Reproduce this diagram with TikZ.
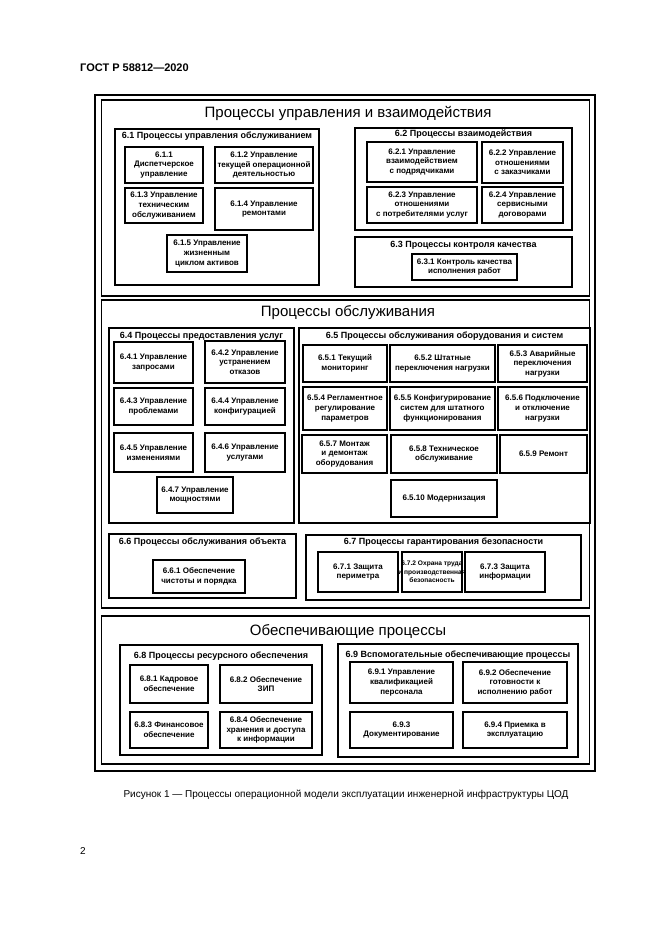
\documentclass[tikz,border=0pt]{standalone}
\usepackage{fontspec}
\setmainfont{Liberation Sans}
\begin{document}
\begin{tikzpicture}[x=1pt,y=-1pt,
  ibox/.style={draw, line width=2.3pt, inner sep=1pt, align=center, font=\fontsize{8}{9.6}\selectfont\bfseries},
  gbox/.style={draw, line width=1.8pt},
  sbox/.style={draw, line width=1.8pt},
  obox/.style={draw, line width=1.5pt},
  hdr/.style={font=\fontsize{9}{10}\selectfont\bfseries, inner sep=0pt},
  stitle/.style={font=\fontsize{15}{17}\selectfont, inner sep=0pt},
  plain/.style={inner sep=0pt}]
\useasboundingbox (0,0) rectangle (661,935);
\newcommand\bx[6]{%
 \pgfmathsetmacro\bxw{#4-#2}\pgfmathsetmacro\bxh{#5-#3}%
 \pgfmathsetmacro\bxx{(#2+#4)/2}\pgfmathsetmacro\bxy{(#3+#5)/2}%
 \node[ibox, minimum width=\bxw pt, minimum height=\bxh pt] (#1) at (\bxx,\bxy) {#6};}
\newcommand\gb[7]{%
 \pgfmathsetmacro\bxw{#4-#2}\pgfmathsetmacro\bxh{#5-#3}%
 \pgfmathsetmacro\bxx{(#2+#4)/2}\pgfmathsetmacro\bxy{(#3+#5)/2}%
 \node[gbox, minimum width=\bxw pt, minimum height=\bxh pt] (#1) at (\bxx,\bxy) {};%
 \node[hdr] (#1t) at (\bxx,#3+#6) {#7};}

% header
\node[plain, anchor=west, font=\fontsize{11}{12}\selectfont\bfseries] (gost) at (80,68) {ГОСТ Р 58812—2020};
% outer frame
\node[obox, minimum width=500pt, minimum height=676pt] (outer) at (345,433) {};

% sections
\node[sbox, minimum width=488pt, minimum height=196pt] (s1) at (345.5,198) {};
\node[stitle] (s1t) at (348,113) {Процессы управления и взаимодействия};
\node[sbox, minimum width=488pt, minimum height=308pt] (s2) at (345.5,454) {};
\node[stitle] (s2t) at (348,313) {Процессы обслуживания};
\node[sbox, minimum width=488pt, minimum height=148pt] (s3) at (345.5,690) {};
\node[stitle] (s3t) at (348,632) {Обеспечивающие процессы};

% 6.1
\gb{g61}{115}{129}{319}{285}{7}{6.1 Процессы управления обслуживанием}
\bx{b611}{125}{147}{203}{183}{6.1.1\\Диспетчерское\\управление}
\bx{b612}{215}{147}{313}{183}{6.1.2 Управление\\текущей операционной\\деятельностью}
\bx{b613}{125}{188}{203}{223}{6.1.3 Управление\\техническим\\обслуживанием}
\bx{b614}{215}{188}{313}{230}{6.1.4 Управление\\ремонтами}
\bx{b615}{167}{235}{247}{272}{6.1.5 Управление\\жизненным\\циклом активов}
% 6.2
\gb{g62}{355}{128}{572}{230}{6}{6.2 Процессы взаимодействия}
\bx{b621}{367}{142}{477}{182}{6.2.1 Управление\\взаимодействием\\с подрядчиками}
\bx{b622}{482}{142}{563}{183}{6.2.2 Управление\\отношениями\\с заказчиками}
\bx{b623}{367}{187}{477}{223}{6.2.3 Управление\\отношениями\\с потребителями услуг}
\bx{b624}{482}{187}{563}{223}{6.2.4 Управление\\сервисными\\договорами}
% 6.3
\gb{g63}{355}{237}{572}{287}{8}{6.3 Процессы контроля качества}
\bx{b631}{412}{254}{517}{280}{6.3.1 Контроль качества\\исполнения работ}

% 6.4
\gb{g64}{109}{328}{294}{523}{8}{6.4 Процессы предоставления услуг}
\bx{b641}{114}{342}{193}{383}{6.4.1 Управление\\запросами}
\bx{b642}{205}{341}{285}{383}{6.4.2 Управление\\устранением\\отказов}
\bx{b643}{114}{388}{193}{425}{6.4.3 Управление\\проблемами}
\bx{b644}{205}{388}{285}{425}{6.4.4 Управление\\конфигурацией}
\bx{b645}{114}{433}{193}{472}{6.4.5 Управление\\изменениями}
\bx{b646}{205}{433}{285}{472}{6.4.6 Управление\\услугами}
\bx{b647}{157}{477}{233}{513}{6.4.7 Управление\\мощностями}
% 6.5
\gb{g65}{299}{328}{590}{523}{8}{6.5 Процессы обслуживания оборудования и систем}
\bx{b651}{303}{345}{387}{382}{6.5.1 Текущий\\мониторинг}
\bx{b652}{390}{345}{495}{382}{6.5.2 Штатные\\переключения нагрузки}
\bx{b653}{498}{345}{587}{382}{6.5.3 Аварийные\\переключения\\нагрузки}
\bx{b654}{303}{387}{387}{430}{6.5.4 Регламентное\\регулирование\\параметров}
\bx{b655}{390}{387}{495}{430}{6.5.5 Конфигурирование\\систем для штатного\\функционирования}
\bx{b656}{498}{387}{587}{430}{6.5.6 Подключение\\и отключение\\нагрузки}
\bx{b657}{302}{435}{387}{473}{6.5.7 Монтаж\\и демонтаж\\оборудования}
\bx{b658}{391}{435}{497}{473}{6.5.8 Техническое\\обслуживание}
\bx{b659}{500}{435}{587}{473}{6.5.9 Ремонт}
\bx{b6510}{391}{480}{497}{517}{6.5.10 Модернизация}
% 6.6
\gb{g66}{109}{534}{296}{598}{8}{6.6 Процессы обслуживания объекта}
\bx{b661}{153}{560}{245}{593}{6.6.1 Обеспечение\\чистоты и порядка}
% 6.7
\gb{g67}{306}{535}{581}{600}{7}{6.7 Процессы гарантирования безопасности}
\bx{b671}{318}{552}{398}{592}{6.7.1 Защита\\периметра}
\bx{b672}{402}{552}{462}{592}{}
\node[plain, align=center, font=\fontsize{6.6}{8.6}\selectfont\bfseries] (b672t) at (b672) {6.7.2 Охрана труда\\и производственная\\безопасность};
\bx{b673}{465}{552}{545}{592}{6.7.3 Защита\\информации}

% 6.8
\gb{g68}{120}{645}{322}{755}{11}{6.8 Процессы ресурсного обеспечения}
\bx{b681}{130}{665}{208}{703}{6.8.1 Кадровое\\обеспечение}
\bx{b682}{220}{665}{312}{703}{6.8.2 Обеспечение\\ЗИП}
\bx{b683}{130}{712}{208}{748}{6.8.3 Финансовое\\обеспечение}
\bx{b684}{220}{712}{312}{748}{6.8.4 Обеспечение\\хранения и доступа\\к информации}
% 6.9
\gb{g69}{338}{644}{578}{757}{11}{6.9 Вспомогательные обеспечивающие процессы}
\bx{b691}{350}{662}{453}{703}{6.9.1 Управление\\квалификацией\\персонала}
\bx{b692}{463}{662}{567}{703}{6.9.2 Обеспечение\\готовности к\\исполнению работ}
\bx{b693}{350}{712}{453}{748}{6.9.3\\Документирование}
\bx{b694}{463}{712}{567}{748}{6.9.4 Приемка в\\эксплуатацию}

% caption and page number
\node[plain, font=\fontsize{10}{12}\selectfont] (cap) at (346,795) {Рисунок 1 — Процессы операционной модели эксплуатации инженерной инфраструктуры ЦОД};
\node[plain, anchor=west, font=\fontsize{10}{12}\selectfont] (pg) at (80,851) {2};
\end{tikzpicture}
\end{document}
